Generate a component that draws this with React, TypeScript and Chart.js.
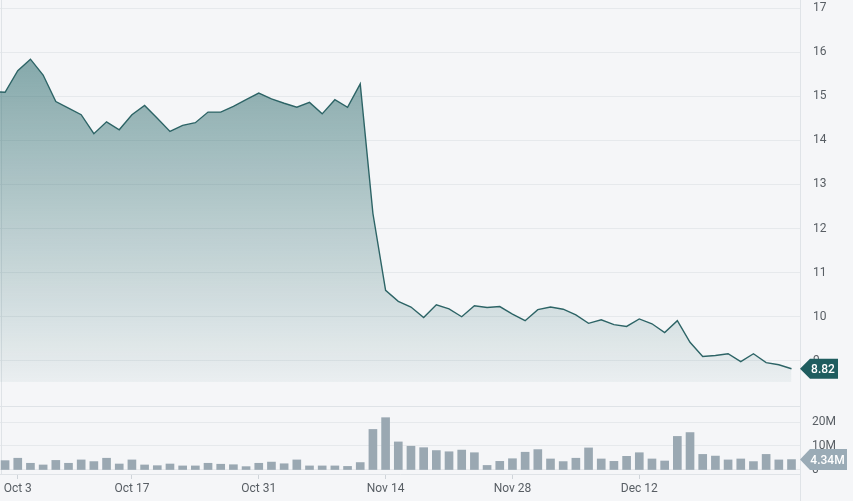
import { useEffect, useRef } from "react";
import { Chart, registerables } from "chart.js";

Chart.register(...registerables);

// Trading days (index 0 is the day before the first visible point)
const dates = [
  "Sep 30",
  "Oct 3", "Oct 4", "Oct 5", "Oct 6", "Oct 7",
  "Oct 10", "Oct 11", "Oct 12", "Oct 13", "Oct 14",
  "Oct 17", "Oct 18", "Oct 19", "Oct 20", "Oct 21",
  "Oct 24", "Oct 25", "Oct 26", "Oct 27", "Oct 28",
  "Oct 31", "Nov 1", "Nov 2", "Nov 3", "Nov 4",
  "Nov 7", "Nov 8", "Nov 9", "Nov 10", "Nov 11",
  "Nov 14", "Nov 15", "Nov 16", "Nov 17", "Nov 18",
  "Nov 21", "Nov 22", "Nov 23", "Nov 24", "Nov 25",
  "Nov 28", "Nov 29", "Nov 30", "Dec 1", "Dec 2",
  "Dec 5", "Dec 6", "Dec 7", "Dec 8", "Dec 9",
  "Dec 12", "Dec 13", "Dec 14", "Dec 15", "Dec 16",
  "Dec 19", "Dec 20", "Dec 21", "Dec 22", "Dec 23",
  "Dec 26", "Dec 27", "Dec 28",
];

const prices = [
  15.10,
  15.09, 15.58, 15.84, 15.48, 14.88,
  14.73, 14.58, 14.15, 14.42, 14.24,
  14.58, 14.79, 14.50, 14.20, 14.34,
  14.40, 14.64, 14.64, 14.77, 14.92,
  15.07, 14.94, 14.84, 14.75, 14.86,
  14.60, 14.92, 14.75, 15.28, 12.34,
  10.60, 10.35, 10.22, 9.98, 10.27,
  10.18, 10.00, 10.25, 10.21, 10.23,
  10.06, 9.91, 10.16, 10.22, 10.17,
  10.04, 9.85, 9.93, 9.82, 9.78,
  9.95, 9.84, 9.64, 9.91, 9.42,
  9.10, 9.12, 9.16, 8.98, 9.16,
  8.96, 8.91, 8.82,
];

// Volume in millions of shares
const volumes = [
  null,
  3.9, 4.9, 2.8, 2.1, 4.0,
  2.8, 4.2, 3.5, 4.9, 2.5,
  4.2, 2.1, 1.8, 2.5, 1.7,
  1.7, 2.8, 2.4, 2.2, 1.4,
  2.8, 3.3, 2.6, 4.2, 1.7,
  1.7, 1.7, 1.5, 3.1, 16.9,
  21.8, 11.7, 9.9, 9.3, 8.1,
  7.6, 8.3, 7.2, 1.9, 3.6,
  4.7, 7.4, 8.5, 4.6, 3.5,
  4.9, 9.2, 4.6, 3.6, 5.7,
  7.2, 4.6, 3.75, 14.0, 15.6,
  6.5, 5.8, 4.2, 4.6, 3.5,
  6.5, 4.2, 4.34,
];

const xTickLabels = ["Oct 3", "Oct 17", "Oct 31", "Nov 14", "Nov 28", "Dec 12"];
const priceTicks = [9, 10, 11, 12, 13, 14, 15, 16, 17];
const volumeTicks = [0, 10, 20];
const lastPriceLabel = "8.82";
const lastVolumeLabel = "4.34M";

const BG = "#f5f6f8";
const GRID = "#e6e9ec";
const FRAME = "#dfe3e7";
const TICK_COLOR = "#585e64";
const FONT = { family: "Roboto", size: 12 };
const X_MIN = -0.4;
const X_MAX = 62.67;
// a tick too close to the left edge is nudged inward so its label stays readable
const FIRST_TICK_MIN = 2;

const xTickValues = xTickLabels.map((l) => Math.max(dates.indexOf(l), FIRST_TICK_MIN));

function zeroPad(s: any) {
  s.paddingTop = 0;
  s.paddingBottom = 0;
  s.paddingLeft = 0;
  s.paddingRight = 0;
}

function tagPlugin(id: string, value: number, text: string, color: string, bodyLeft: number, bodyRight: number, half: number) {
  return {
    id,
    afterDraw(chart: any) {
      const y = chart.scales.y.getPixelForValue(value);
      const x0 = chart.chartArea.right;
      const c = chart.ctx;
      c.save();
      c.fillStyle = color;
      c.beginPath();
      c.moveTo(x0, y);
      c.lineTo(x0 + bodyLeft, y - half);
      c.lineTo(x0 + bodyRight, y - half);
      c.lineTo(x0 + bodyRight, y + half);
      c.lineTo(x0 + bodyLeft, y + half);
      c.closePath();
      c.fill();
      c.fillStyle = "#ffffff";
      c.font = "500 12px Roboto";
      c.textAlign = "center";
      c.textBaseline = "middle";
      c.fillText(text, x0 + (bodyLeft + bodyRight) / 2 - 1, y + 1);
      c.restore();
    },
  };
}

function framePlugin(id: string, topLine: boolean) {
  return {
    id,
    beforeDatasetsDraw(chart: any) {
      const { left, right, top } = chart.chartArea;
      const c = chart.ctx;
      c.save();
      c.strokeStyle = FRAME;
      c.lineWidth = 1;
      c.beginPath();
      c.moveTo(Math.round(right) + 0.5, 0);
      c.lineTo(Math.round(right) + 0.5, chart.height);
      if (topLine) {
        c.moveTo(left, Math.round(top) + 0.5);
        c.lineTo(right, Math.round(top) + 0.5);
      }
      c.moveTo(left + 1.5, 0);
      c.lineTo(left + 1.5, topLine ? chart.chartArea.bottom : chart.height);
      c.stroke();
      c.restore();
    },
  };
}

export default function App() {
  const priceRef = useRef<HTMLCanvasElement>(null);
  const volRef = useRef<HTMLCanvasElement>(null);

  useEffect(() => {
    const pricePoints = prices.map((p, i) => ({ x: i - 1, y: p }));
    const volPoints = volumes.map((v, i) => ({ x: i - 1, y: v }));

    const priceChart = new Chart(priceRef.current!, {
      type: "line",
      data: {
        datasets: [
          {
            data: pricePoints as any,
            borderColor: "#2d6466",
            borderWidth: 1.4,
            pointRadius: 0,
            tension: 0,
            fill: "start",
            backgroundColor: (ctx: any) => {
              const area = ctx.chart.chartArea;
              if (!area) return "rgba(46,110,112,0.4)";
              const g = ctx.chart.ctx.createLinearGradient(0, area.top, 0, area.bottom);
              g.addColorStop(0, "rgba(46,108,110,0.64)");
              g.addColorStop(1, "rgba(46,108,110,0.05)");
              return g;
            },
          },
        ],
      },
      options: {
        animation: false,
        responsive: false,
        layout: { padding: { top: 8, bottom: 18, left: 0, right: 0 } },
        plugins: { legend: { display: false }, tooltip: { enabled: false } },
        scales: {
          x: { type: "linear", min: X_MIN, max: X_MAX, display: false, offset: false },
          y: {
            position: "right",
            min: 8.52,
            max: 17,
            afterBuildTicks: (s: any) => {
              s.ticks = priceTicks.map((v) => ({ value: v }));
            },
            afterFit: (s: any) => {
              s.width = 53;
              zeroPad(s);
            },
            grid: { color: GRID, drawTicks: false },
            border: { display: false },
            ticks: { padding: 13, color: TICK_COLOR, font: FONT, callback: (v: any) => String(v) },
          },
        },
      },
      plugins: [framePlugin("framePrice", false), tagPlugin("tagPrice", prices[prices.length - 1], lastPriceLabel, "#1f5d5f", 10, 38, 10)],
    });

    const volChart = new Chart(volRef.current!, {
      type: "bar",
      data: {
        datasets: [
          {
            data: volPoints as any,
            backgroundColor: "#9aa8b2",
            barThickness: 8,
          },
        ],
      },
      options: {
        animation: false,
        responsive: false,
        layout: { padding: { top: 6, bottom: 0, left: 0, right: 0 } },
        plugins: { legend: { display: false }, tooltip: { enabled: false } },
        scales: {
          x: {
            type: "linear",
            min: X_MIN,
            max: X_MAX,
            offset: false,
            afterBuildTicks: (s: any) => {
              s.ticks = xTickValues.map((v) => ({ value: v - 1 }));
            },
            afterFit: (s: any) => {
              s.height = 27;
              zeroPad(s);
            },
            grid: { offset: false, drawOnChartArea: false, drawTicks: true, tickLength: 5, color: "#cfd4d9" },
            border: { display: true, color: FRAME },
            ticks: {
              autoSkip: false,
              maxRotation: 0,
              padding: 3,
              color: TICK_COLOR,
              font: FONT,
              callback: (v: any) => {
                const k = xTickValues.indexOf(v + 1);
                return k >= 0 ? xTickLabels[k] : "";
              },
            },
          },
          y: {
            position: "right",
            min: -1.667,
            max: 26.667,
            afterBuildTicks: (s: any) => {
              s.ticks = volumeTicks.map((v) => ({ value: v }));
            },
            afterFit: (s: any) => {
              s.width = 53;
              zeroPad(s);
            },
            grid: { color: GRID, drawTicks: false },
            border: { display: false },
            ticks: {
              padding: 12,
              color: TICK_COLOR,
              font: FONT,
              callback: (v: any) => (v === 0 ? "0" : v + "M"),
            },
          },
        },
      },
      plugins: [framePlugin("frameVol", true), tagPlugin("tagVol", volumes[volumes.length - 1] as number, lastVolumeLabel, "#9aabb6", 10, 47, 10.5)],
    });

    return () => {
      priceChart.destroy();
      volChart.destroy();
    };
  }, []);

  return (
    <div style={{ position: "fixed", left: 0, top: 0, width: 853, height: 501, background: BG, overflow: "hidden" }}>
      <canvas ref={priceRef} width={853} height={400} style={{ position: "absolute", left: 0, top: 0, width: 853, height: 400 }} />
      <canvas ref={volRef} width={853} height={101} style={{ position: "absolute", left: 0, top: 400, width: 853, height: 101 }} />
    </div>
  );
}
